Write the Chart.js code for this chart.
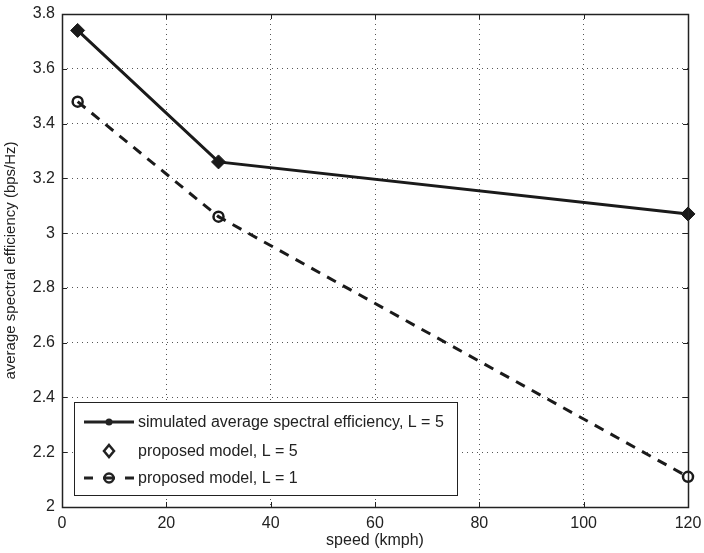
<!DOCTYPE html>
<html lang="en">
<head>
    <meta charset="UTF-8">
    <title>Spectral efficiency vs speed</title>
    <style>
        body {
            margin: 0;
            background-color: #fff;
        }
        .chart-box {
            width: 704px;
            height: 553px;
        }
    </style>
    <script src="https://cdn.jsdelivr.net/npm/chart.js"></script>
</head>
<body>
    <div class="chart-box">
        <canvas id="effChart" width="704" height="553"></canvas>
    </div>
    <script>
        const speeds = [3, 30, 120];
        const simulatedL5 = [3.74, 3.26, 3.07];
        const proposedL5 = [3.74, 3.26, 3.07];
        const proposedL1 = [3.48, 3.06, 2.11];
        const seriesNames = [
            'simulated average spectral efficiency, L = 5',
            'proposed model, L = 5',
            'proposed model, L = 1'
        ];

        const toPoints = vals => vals.map((v, i) => ({ x: speeds[i], y: v }));
        const fontFamily = '"Liberation Sans", Arial, sans-serif';

        // box, inward ticks and the legend, drawn the matlab way
        const matlabFrame = {
            id: 'matlabFrame',
            afterDraw(chart) {
                const { ctx, chartArea: a, scales } = chart;
                ctx.save();
                ctx.strokeStyle = '#222';
                ctx.lineWidth = 1;
                ctx.setLineDash([]);
                ctx.beginPath();
                scales.x.ticks.forEach(t => {
                    const px = Math.round(scales.x.getPixelForValue(t.value)) + 0.5;
                    ctx.moveTo(px, a.bottom); ctx.lineTo(px, a.bottom - 5);
                    ctx.moveTo(px, a.top); ctx.lineTo(px, a.top + 5);
                });
                scales.y.ticks.forEach(t => {
                    const py = Math.round(scales.y.getPixelForValue(t.value)) + 0.5;
                    ctx.moveTo(a.left, py); ctx.lineTo(a.left + 5, py);
                    ctx.moveTo(a.right, py); ctx.lineTo(a.right - 5, py);
                });
                ctx.stroke();
                ctx.lineWidth = 1.5;
                ctx.strokeRect(Math.round(a.left) + 0.5, Math.round(a.top) + 0.5,
                    Math.round(a.right - a.left), Math.round(a.bottom - a.top));

                // legend
                const lx = 74, ly = 402, lw = 383, lh = 93;
                ctx.fillStyle = '#fff';
                ctx.fillRect(lx, ly, lw, lh);
                ctx.lineWidth = 1;
                ctx.strokeStyle = '#222';
                ctx.strokeRect(lx + 0.5, ly + 0.5, lw, lh);
                const rows = [422, 451, 478];
                ctx.font = '16px ' + fontFamily;
                ctx.textBaseline = 'middle';
                ctx.fillStyle = '#222';
                rows.forEach((ry, i) => ctx.fillText(seriesNames[i], 138, ry + 1));

                // row 1: solid line with dot
                ctx.strokeStyle = '#222';
                ctx.lineWidth = 3;
                ctx.beginPath(); ctx.moveTo(84, rows[0]); ctx.lineTo(134, rows[0]); ctx.stroke();
                ctx.beginPath(); ctx.arc(109, rows[0], 3.5, 0, Math.PI * 2); ctx.fill();
                // row 2: open diamond
                ctx.lineWidth = 2.5;
                ctx.beginPath();
                ctx.moveTo(109, rows[1] - 6); ctx.lineTo(114, rows[1]);
                ctx.lineTo(109, rows[1] + 6); ctx.lineTo(104, rows[1]);
                ctx.closePath(); ctx.stroke();
                // row 3: dashes with circle
                ctx.lineWidth = 3;
                ctx.beginPath();
                ctx.moveTo(84, rows[2]); ctx.lineTo(93, rows[2]);
                ctx.moveTo(103, rows[2]); ctx.lineTo(115, rows[2]);
                ctx.moveTo(125, rows[2]); ctx.lineTo(134, rows[2]);
                ctx.stroke();
                ctx.lineWidth = 2.5;
                ctx.beginPath(); ctx.arc(109, rows[2], 4.5, 0, Math.PI * 2); ctx.stroke();
                ctx.restore();
            }
        };

        const tickFont = { family: fontFamily, size: 16 };
        const gridOpts = { color: '#555', lineWidth: 1, drawTicks: false };

        new Chart(document.getElementById('effChart'), {
            type: 'line',
            data: {
                datasets: [
                    {
                        label: seriesNames[1],
                        data: toPoints(proposedL5),
                        showLine: false,
                        pointStyle: 'rectRot',
                        pointRadius: 7,
                        backgroundColor: '#1a1a1a',
                        borderColor: '#1a1a1a',
                        borderWidth: 1,
                        clip: false,
                        order: 0
                    },
                    {
                        label: seriesNames[0],
                        data: toPoints(simulatedL5),
                        borderColor: '#1a1a1a',
                        borderWidth: 3,
                        pointRadius: 0,
                        clip: false,
                        order: 1
                    },
                    {
                        label: seriesNames[2],
                        data: toPoints(proposedL1),
                        borderColor: '#1a1a1a',
                        borderWidth: 3,
                        borderDash: [10, 8],
                        pointStyle: 'circle',
                        pointRadius: 5,
                        pointBorderWidth: 2.5,
                        pointBackgroundColor: 'rgba(0,0,0,0)',
                        clip: false,
                        order: 2
                    }
                ]
            },
            options: {
                responsive: false,
                animation: false,
                layout: { padding: { top: 14, right: 16, left: 0, bottom: 0 } },
                plugins: {
                    legend: { display: false },
                    tooltip: { enabled: false }
                },
                scales: {
                    x: {
                        type: 'linear',
                        min: 0,
                        max: 120,
                        ticks: { stepSize: 20, font: tickFont, color: '#222', padding: 7 },
                        grid: gridOpts,
                        border: { display: false, dash: [1, 4] },
                        title: {
                            display: true,
                            text: 'speed (kmph)',
                            font: { family: fontFamily, size: 16 },
                            color: '#222',
                            padding: { top: 0, bottom: 2.5 }
                        },
                        afterFit: s => {
                            s.height = 46;
                            s.paddingLeft = 0;
                            s.paddingRight = 0;
                        }
                    },
                    y: {
                        min: 2,
                        max: 3.8,
                        ticks: {
                            stepSize: 0.2, font: tickFont, color: '#222', padding: 7,
                            callback: v => String(Number(v.toFixed(1)))
                        },
                        grid: gridOpts,
                        border: { display: false, dash: [1, 4] },
                        title: {
                            display: true,
                            text: 'average spectral efficiency (bps/Hz)',
                            font: { family: fontFamily, size: 15 },
                            color: '#222',
                            padding: { top: 1.5, bottom: 0 }
                        },
                        afterFit: s => {
                            s.width = 62;
                            s.paddingTop = 0;
                            s.paddingBottom = 0;
                        }
                    }
                }
            },
            plugins: [matlabFrame]
        });
    </script>
</body>
</html>
